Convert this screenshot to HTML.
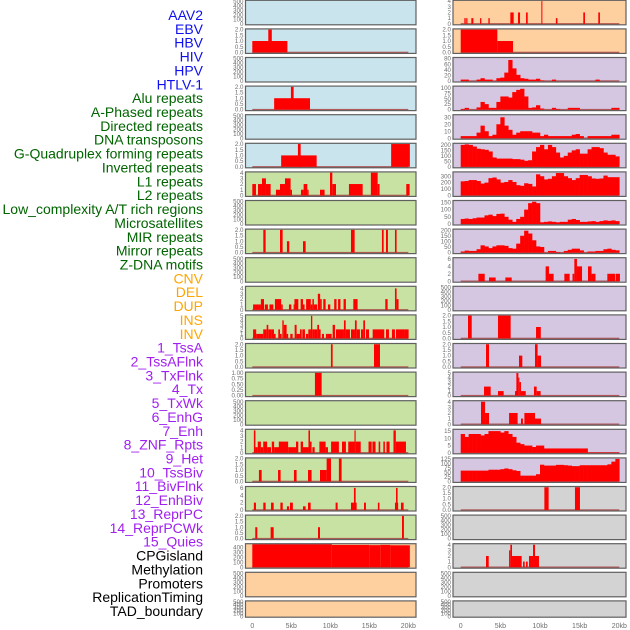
<!DOCTYPE html>
<html><head><meta charset="utf-8"><style>
html,body{margin:0;padding:0;background:#fff;}
svg{display:block;font-family:"Liberation Sans",sans-serif;}
</style></head><body>
<svg id="chart" width="630" height="630" viewBox="0 0 630 630" xmlns="http://www.w3.org/2000/svg">
<g id="labels"></g>
<g id="panels"></g>
<g id="xaxes"></g>
</svg>
<script>
// ---- data ----
const trackLabels = ["AAV2","EBV","HBV","HIV","HPV","HTLV-1","Alu repeats","A-Phased repeats","Directed repeats","DNA transposons","G-Quadruplex forming repeats","Inverted repeats","L1 repeats","L2 repeats","Low_complexity A/T rich regions","Microsatellites","MIR repeats","Mirror repeats","Z-DNA motifs","CNV","DEL","DUP","INS","INV","1_TssA","2_TssAFlnk","3_TxFlnk","4_Tx","5_TxWk","6_EnhG","7_Enh","8_ZNF_Rpts","9_Het","10_TssBiv","11_BivFlnk","12_EnhBiv","13_ReprPC","14_ReprPCWk","15_Quies","CPGisland","Methylation","Promoters","ReplicationTiming","TAD_boundary"];
const labelGroups = ["virus","virus","virus","virus","virus","virus","rep","rep","rep","rep","rep","rep","rep","rep","rep","rep","rep","rep","rep","sv","sv","sv","sv","sv","hmm","hmm","hmm","hmm","hmm","hmm","hmm","hmm","hmm","hmm","hmm","hmm","hmm","hmm","hmm","oth","oth","oth","oth","oth"];
const xTickValues = [0,5,10,15,20];
const xTickLabels = ["0","5kb","10kb","15kb","20kb"];

// segments: [startKb, endKb, value]
const segL1 = [[0,4.5,1],[2.05,2.5,2]];
const segL3 = [[2.8,7.4,1],[4.95,5.3,2]];
const segL5 = [[3.7,8.25,1],[5.85,6.2,2],[17.8,20.2,2]];
const segL6 = [[0,0.47,2],[0.73,1.24,2],[1.24,1.75,3],[1.75,2.35,2],[3.03,3.55,1],[3.55,4.19,2],[4.19,4.91,3],[4.91,5.09,1],[6.24,6.58,1],[6.58,7.05,2],[7.05,7.22,1],[8.68,9.27,1],[9.96,10.26,4],[10.26,10.73,2],[12.39,14.15,2],[15.2,16.07,4],[16.07,16.32,2],[19.74,20.17,2]];
const segL8 = [[1.41,1.71,2],[3.55,3.89,2],[4.44,4.74,1],[6.5,6.84,1],[12.65,13.12,2],[16.62,16.84,2],[17.14,17.39,2],[18.29,18.5,2]];
const segL10 = [[0.1,0.8,1],[0.8,1.1,1],[1.1,1.5,2],[1.6,2.0,1],[2.2,2.7,1],[2.9,3.7,2],[3.7,3.9,1],[4.7,5.0,1],[5.3,5.4,1],[5.4,5.9,2],[6.2,6.5,2],[6.5,6.7,1],[6.9,7.5,2],[7.5,7.7,1],[7.7,7.9,2],[7.9,8.3,1],[8.4,8.7,3],[8.7,8.9,2],[9.1,9.4,2],[9.7,10.0,1],[10.5,10.8,2],[11.0,11.3,2],[11.7,12.0,2],[12.95,13.5,2],[17.05,17.35,2],[18.29,18.5,4],[18.5,18.75,2]];
const segL11 = [[0.1,0.5,2],[0.5,1.4,1],[1.4,1.84,2],[1.84,2.05,3],[2.05,2.48,2],[2.48,2.78,2],[2.78,2.99,1],[3.33,3.55,2],[3.55,3.76,1],[3.85,4.03,4],[4.03,4.4,3],[4.4,4.6,1],[4.87,5.17,1],[5.43,5.68,3],[5.68,6.11,1],[6.11,6.33,2],[6.41,6.75,2],[6.88,7.18,1],[7.18,7.52,2],[7.52,7.69,5],[7.69,8.03,2],[8.03,8.33,2],[8.33,8.55,3],[8.55,8.76,2],[8.93,9.19,1],[9.44,9.65,1],[9.65,10.17,1],[10.3,10.6,3],[10.73,11.75,2],[11.75,11.97,4],[11.97,12.52,2],[12.65,13.16,2],[13.16,13.38,4],[13.38,13.8,2],[13.93,14.23,2],[14.23,14.45,4],[14.57,14.96,2],[15.43,16.92,2],[17.14,17.52,2],[17.9,18.29,2],[18.42,19.57,2],[19.57,20.04,2]];
const segL12 = [[10.08,10.3,2],[15.6,16.37,2]];
const segL13 = [[8.03,8.89,1]];
const segL15 = [[0.2,0.4,4],[0.4,0.7,1],[0.7,1.1,2],[1.1,1.4,1],[1.4,1.9,2],[1.9,2.4,1],[2.5,2.8,2],[2.8,3.5,1],[3.4,4.6,2],[4.6,5.6,1],[5.6,5.9,2],[6.2,6.5,2],[6.5,7.2,1],[7.2,7.4,4],[7.4,7.6,2],[7.7,8.0,1],[8.6,9.4,2],[9.4,9.7,1],[10.1,11.1,2],[11.5,12.0,2],[12.3,13.1,2],[13.1,13.25,4],[13.25,13.9,2],[14.9,15.3,2],[15.4,15.8,2],[16.2,16.4,2],[16.8,17.0,2],[17.2,17.6,2],[18.1,18.4,4],[18.4,19.7,2]];
const segL16 = [[0.85,1.2,1],[3.3,3.63,1],[5.34,5.68,1],[7.14,7.6,1],[8.68,9.02,1],[9.0,9.53,1],[9.53,10.09,2],[11.1,11.45,2]];
const segL17 = [[0.2,0.47,2],[1.41,1.71,2],[2.4,2.74,2],[3.6,3.9,2],[4.83,5.2,2],[4.44,4.7,1],[6.5,6.84,1],[7.14,7.48,2],[10.68,10.94,2],[12.65,13.38,2],[13.03,13.25,6],[14.32,14.57,2],[16.1,16.3,2],[18.29,18.7,2],[18.42,18.63,6],[19.06,19.4,2]];
const segL18 = [[0.38,0.64,1],[2.35,2.74,1],[8.42,8.68,1],[19.19,19.44,2]];
const segL19 = [[0,10.2,462],[10.2,15.0,447],[15.0,16.4,443],[16.4,17.7,448],[17.7,20.2,440]];
const segR0 = [[0.46,0.63,1],[0.7,0.85,1],[1.34,1.6,1],[2.44,2.6,1],[3.49,3.66,1],[6.26,6.68,2],[7.23,7.48,2],[8.24,8.45,2],[10.17,10.3,4],[12.0,12.2,1],[15.46,15.67,2],[17.35,17.56,2]];
const segR1 = [[0,4.62,2],[4.62,6.6,1]];
const segR9 = [[2.23,3.03,2],[3.57,4.41,1],[5.63,6.43,1],[10.71,11.13,4],[11.13,11.72,2],[13.07,13.74,2],[14.1,14.33,2],[14.33,14.66,6],[14.66,15.3,4],[16.05,16.5,4],[16.5,17.0,2],[18.49,19.5,2],[19.58,20.08,2]];
const segR11 = [[0.92,1.39,2],[4.7,6.3,2],[9.5,10.1,1]];
const segR12 = [[3.19,3.57,2],[7.35,7.77,1],[9.37,9.7,2],[9.7,10.13,1]];
const segR13 = [[2.94,3.78,2],[4.7,5.42,1],[6.85,7.06,1],[7.02,7.27,5],[7.27,7.4,4],[7.4,7.6,3],[7.6,8.2,1],[9.24,9.58,2],[9.58,10.08,1]];
const segR14 = [[2.56,3.07,4],[3.07,3.57,2],[6.1,7.18,2],[7.6,7.85,1],[8.03,9.37,2],[9.37,10.13,1]];
const segR17 = [[10.55,11.09,2],[14.41,15.04,2]];
const segR19 = [[3.19,3.53,2],[6.1,6.26,3],[6.26,6.47,4],[6.47,7.69,2],[7.86,8.07,1],[8.24,8.45,1],[8.61,9.12,2],[9.12,9.37,4],[9.37,9.87,2]];

// 0.5kb bins (40 values)
const binR2 = [5,5,0,0,5,10,5,5,0,10,12,30,75,45,22,10,8,5,5,8,2,0,0,5,0,0,0,0,0,0,0,0,0,0,5,0,0,0,0,0];
const binR3 = [3,8,0,0,10,35,25,8,8,35,60,60,55,80,90,95,60,8,10,20,5,0,0,8,3,0,0,8,8,8,0,0,0,0,0,0,0,0,8,8];
const binR4 = [3,3,3,3,8,18,10,3,5,20,30,18,12,5,8,10,10,10,8,8,3,5,3,3,3,3,3,3,5,6,3,0,3,3,3,3,3,3,5,5];
const binR5 = [200,205,200,185,165,160,155,140,85,75,75,75,75,70,70,65,55,60,140,180,200,160,200,180,130,85,100,130,150,160,120,120,160,180,180,170,130,110,110,95];
const binR6 = [220,225,240,240,225,185,200,270,280,250,200,210,240,210,160,150,190,180,140,330,300,250,260,300,350,350,300,270,240,270,320,320,300,265,260,265,310,285,285,285];
const binR7 = [35,38,35,40,45,45,60,65,55,70,72,50,30,15,35,50,100,145,155,145,12,15,18,15,12,15,15,30,35,28,15,15,18,20,15,20,25,22,25,20];
const binR8 = [10,18,15,15,30,65,55,40,55,65,65,60,40,35,80,150,195,170,110,55,50,0,15,15,5,0,15,25,35,35,20,0,10,10,15,15,30,35,25,20];
const binR15 = [13,11,13,13,13,12,13,15,15,15,14,15,13,11,7,6,5,5,4,5,5,3,3,3,3,3,3,3,3,3,3,3,0.3,0.3,0.3,0.3,0.3,0.3,0.3,0.3];
const binR16 = [60,60,60,60,60,60,60,65,65,65,68,72,68,62,58,32,32,32,32,40,93,88,88,88,92,92,90,88,85,85,90,90,90,90,90,90,90,95,110,125];

// y-axis tick labels
const ticksEmpty = ["0","100","200","300","400","500"];
const ticks2 = ["0.0","0.5","1.0","1.5","2.0"];
const ticks1 = ["0.00","0.25","0.50","0.75","1.00"];
const ticks4 = ["0","1","2","3","4"];
const ticks5 = ["0","1","2","3","4","5"];
const ticks6 = ["0","2","4","6"];
const ticks400 = ["0","100","200","300","400"];
const ticks80 = ["0","20","40","60","80"];
const ticks100 = ["0","25","50","75","100"];
const ticks30 = ["0","10","20","30"];
const ticks200 = ["0","50","100","150","200"];
const ticks300 = ["0","100","200","300"];
const ticks150 = ["0","50","100","150"];
const ticks15 = ["0","5","10","15"];
const ticks125 = ["0","25","50","75","100","125"];

// panel specs: [bg, ymax, ticks, segments, bins]
const leftPanels = [
 ["blue",510,ticksEmpty,null,null],["blue",2.02,ticks2,segL1,null],["blue",510,ticksEmpty,null,null],["blue",2.02,ticks2,segL3,null],["blue",510,ticksEmpty,null,null],["blue",2.02,ticks2,segL5,null],
 ["green",4.05,ticks4,segL6,null],["green",510,ticksEmpty,null,null],["green",2.02,ticks2,segL8,null],["green",510,ticksEmpty,null,null],["green",4.3,ticks4,segL10,null],["green",5.1,ticks5,segL11,null],["green",2.02,ticks2,segL12,null],["green",1.01,ticks1,segL13,null],["green",510,ticksEmpty,null,null],["green",4.1,ticks4,segL15,null],["green",2.02,ticks2,segL16,null],["green",6.25,ticks6,segL17,null],["green",2.02,ticks2,segL18,null],
 ["orange",462,ticks400,segL19,null],["orange",510,ticksEmpty,null,null],["orange",510,ticksEmpty,null,null]
];
const rightPanels = [
 ["orange",4.05,ticks4,segR0,null],["orange",2.02,ticks2,segR1,null],
 ["purple",82,ticks80,null,binR2],["purple",105,ticks100,null,binR3],["purple",33,ticks30,null,binR4],["purple",210,ticks200,null,binR5],["purple",360,ticks300,null,binR6],["purple",160,ticks150,null,binR7],["purple",205,ticks200,null,binR8],["purple",6.2,ticks6,segR9,null],["purple",510,ticksEmpty,null,null],["purple",2.02,ticks2,segR11,null],["purple",2.02,ticks2,segR12,null],["purple",5.1,ticks5,segR13,null],["purple",4.1,ticks4,segR14,null],["purple",15.9,ticks15,null,binR15],["purple",128,ticks125,null,binR16],
 ["gray",2.02,ticks2,segR17,null],["gray",510,ticksEmpty,null,null],["gray",4.1,ticks4,segR19,null],["gray",510,ticksEmpty,null,null],["gray",510,ticksEmpty,null,null]
];

// ---- rendering ----
const NS = "http://www.w3.org/2000/svg";
const bgColors = {blue:"#c9e4ec",green:"#c8e2a4",orange:"#ffd09f",purple:"#d5c7e2",gray:"#d3d3d3"};
const labelColors = {virus:"#1010ee",rep:"#006400",sv:"#ffa500",hmm:"#a020f0",oth:"#000000"};
const cols = [{x:245.5,w:170.5,x0:252.3,k:7.8},{x:453,w:173,x0:460.7,k:7.93}];
function mk(tag, attrs, parent){const e=document.createElementNS(NS,tag);for(const a in attrs)e.setAttribute(a,attrs[a]);parent.appendChild(e);return e;}
function slug(s){return s.toLowerCase().replace(/[^a-z0-9]+/g,"-").replace(/^-|-$/g,"");}

const gl = document.getElementById("labels");
trackLabels.forEach((t,i)=>{
  const el = mk("text",{x:203,y:(20+13.86*i).toFixed(2),"text-anchor":"end","font-size":"14",fill:labelColors[labelGroups[i]]},gl);
  el.textContent = t;
  
  
});

const gp = document.getElementById("panels");
function drawPanel(spec, colIdx, row, name){
  const c = cols[colIdx];
  const top = 28.6*row + 0.3;
  const h = row===21 ? 16.3 : 24.5;
  const bottom = top + h;
  const [bg, ymax, ticks, segs, bins] = spec;
  const g = mk("g",{},gp);
  
  
  const ys = v => (bottom - 1) - (v / ymax) * (h - 1.5);
  const xs = kb => c.x0 + kb * c.k;
  const bgr = mk("rect",{x:c.x,y:top,width:c.w,height:h,fill:bgColors[bg]},g);
  
  
  if (segs || bins) {
    const base = mk("rect",{x:xs(0),y:ys(0)-0.7,width:xs(20)-xs(0),height:1.4,fill:"#a83a3a","fill-opacity":"0.8"},g);
    
    
  }
  if (segs) segs.forEach(s=>{
    const r = mk("rect",{x:xs(s[0]).toFixed(2),y:ys(s[2]).toFixed(2),width:Math.max(0.8,xs(s[1])-xs(s[0])).toFixed(2),height:(ys(0)-ys(s[2])).toFixed(2),fill:"#ff0000"},g);
    
    
  });
  if (bins) bins.forEach((v,i)=>{
    if (v<=0) return;
    const r = mk("rect",{x:xs(i*0.5).toFixed(2),y:ys(v).toFixed(2),width:(xs(0.5)-xs(0)+0.3).toFixed(2),height:(ys(0)-ys(v)).toFixed(2),fill:"#ff0000"},g);
    
    
  });
  const br = mk("rect",{x:c.x,y:top,width:c.w,height:h,fill:"none",stroke:"#606060","stroke-width":"1.2"},g);
  
  
  ticks.forEach(t=>{
    const tt = mk("text",{x:c.x-2,y:(ys(parseFloat(t))+2.1).toFixed(2),"text-anchor":"end","font-size":"6.2",fill:"#6e6e6e"},g);
    tt.textContent = t;
    
    
  });
}
leftPanels.forEach((p,i)=>drawPanel(p,0,i,trackLabels[i]));
rightPanels.forEach((p,i)=>drawPanel(p,1,i,trackLabels[22+i]));

const gx = document.getElementById("xaxes");
cols.forEach((c,ci)=>{
  xTickValues.forEach((v,i)=>{
    const t = mk("text",{x:(c.x0+v*c.k).toFixed(2),y:628,"text-anchor":"middle","font-size":"7",fill:"#6e6e6e"},gx);
    t.textContent = xTickLabels[i];
    
    
  });
});
</script>
</body></html>
